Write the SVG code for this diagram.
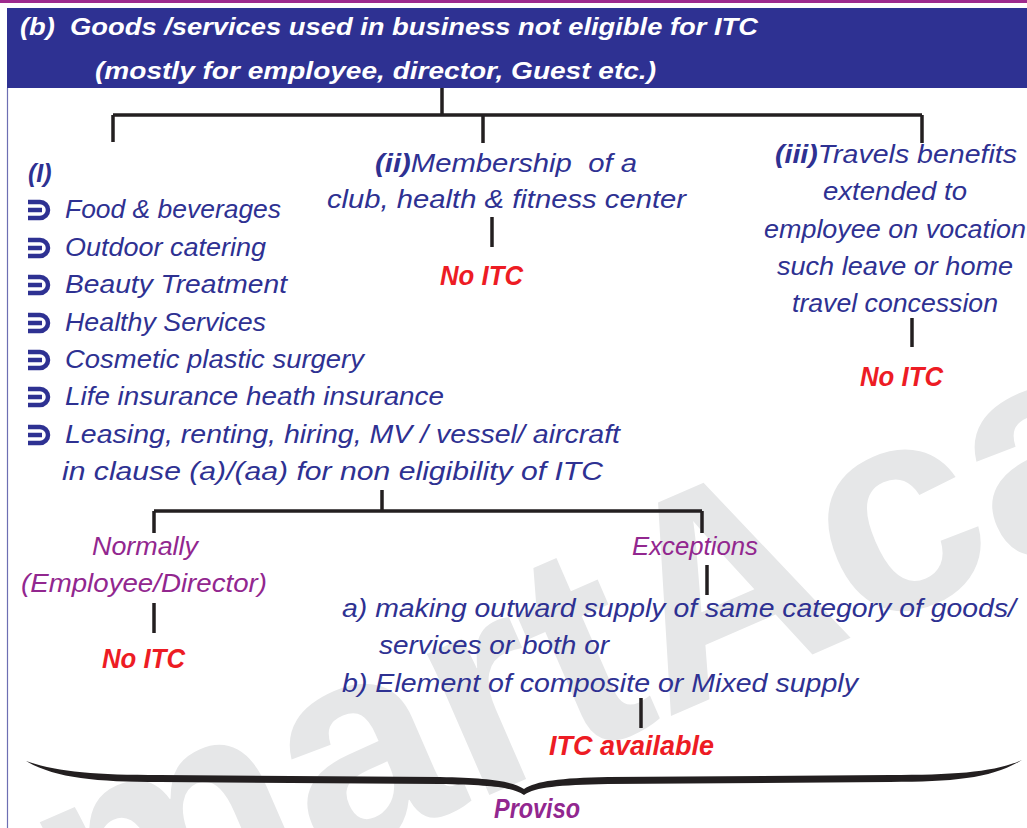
<svg xmlns="http://www.w3.org/2000/svg" xmlns:xlink="http://www.w3.org/1999/xlink" width="1027" height="828" viewBox="0 0 1027 828">
<style>
.t{font-family:"Liberation Sans","DejaVu Sans",sans-serif;font-style:italic}
.blue{fill:#2e3192;font-size:25px}
.red{fill:#ed1c24;font-weight:bold;font-size:27px}
.pur{fill:#92278f;font-size:25px}
.hdr{fill:#ffffff;font-weight:bold;font-size:24px}
.b{font-weight:bold}
.conn{stroke:#231f20;stroke-width:3.5;fill:none}
.wm{font-family:"Liberation Sans","DejaVu Sans",sans-serif;font-weight:bold;font-size:292px;fill:#e6e7e8;word-spacing:-70px}
</style>
<defs>
<path id="bul" d="M-10,-8 H2 A8,8 0 0 1 2,8 H-10 M-10,0 H4" stroke="#2e3192" stroke-width="4.5" fill="none"/>
</defs>
<rect x="0" y="0" width="1027" height="828" fill="#ffffff"/>
<!-- watermark -->
<text class="wm" x="-95" y="1049" transform="rotate(-23.5 -95 1049)">Smart Academy</text>
<!-- frame -->
<rect x="0" y="0" width="1027" height="3" fill="#9e2a8e"/>
<line x1="7.5" y1="88" x2="7.5" y2="828" stroke="#6d6fb3" stroke-width="1.2"/>
<g id="header">
<rect x="7" y="8" width="1020" height="80" fill="#2e3192"/>
<text class="t hdr" x="20" y="35" textLength="738" lengthAdjust="spacingAndGlyphs" xml:space="preserve">(b)  Goods /services used in business not eligible for ITC</text>
<text class="t hdr" x="95" y="79" textLength="561" lengthAdjust="spacingAndGlyphs">(mostly for employee, director, Guest etc.)</text>
</g>
<g id="connectors">
<path class="conn" d="M442,88 V115 M113,115 H922 M113,115 V142 M483,115 V143 M922,115 V143"/>
<path class="conn" d="M492,217 V247"/>
<path class="conn" d="M912,318 V347"/>
<path class="conn" d="M382,490 V511 M154,511 H702 M154,511 V533 M702,511 V533"/>
<path class="conn" d="M154,603 V633"/>
<path class="conn" d="M707,565 V595"/>
<path class="conn" d="M641,698 V728"/>
</g>
<g id="node-i">
<text class="t blue b" x="28" y="182" font-size="26">(I)</text>
<use href="#bul" x="38" y="210"/>
<text class="t blue" x="65" y="218" textLength="216" lengthAdjust="spacingAndGlyphs">Food &amp; beverages</text>
<use href="#bul" x="38" y="248"/>
<text class="t blue" x="65" y="256" textLength="201" lengthAdjust="spacingAndGlyphs">Outdoor catering</text>
<use href="#bul" x="38" y="285"/>
<text class="t blue" x="65" y="293" textLength="222" lengthAdjust="spacingAndGlyphs">Beauty Treatment</text>
<use href="#bul" x="38" y="323"/>
<text class="t blue" x="65" y="331" textLength="201" lengthAdjust="spacingAndGlyphs">Healthy Services</text>
<use href="#bul" x="38" y="360"/>
<text class="t blue" x="65" y="368" textLength="299" lengthAdjust="spacingAndGlyphs">Cosmetic plastic surgery</text>
<use href="#bul" x="38" y="397"/>
<text class="t blue" x="65" y="405" textLength="379" lengthAdjust="spacingAndGlyphs">Life insurance heath insurance</text>
<use href="#bul" x="38" y="435"/>
<text class="t blue" x="65" y="443" textLength="555" lengthAdjust="spacingAndGlyphs">Leasing, renting, hiring, MV / vessel/ aircraft</text>
<text class="t blue" x="62" y="480" textLength="541" lengthAdjust="spacingAndGlyphs">in clause (a)/(aa) for non eligibility of ITC</text>
</g>
<g id="node-ii">
<text class="t blue" x="375" y="172" textLength="262" lengthAdjust="spacingAndGlyphs" xml:space="preserve"><tspan class="b">(ii)</tspan>Membership  of a</text>
<text class="t blue" x="327" y="208" textLength="359" lengthAdjust="spacingAndGlyphs">club, health &amp; fitness center</text>
</g>
<g id="node-ii-noitc">
<text class="t red" x="440" y="285" textLength="83" lengthAdjust="spacingAndGlyphs">No ITC</text>
</g>
<g id="node-iii">
<text class="t blue" x="775" y="163" textLength="242" lengthAdjust="spacingAndGlyphs"><tspan class="b">(iii)</tspan>Travels benefits</text>
<text class="t blue" x="823" y="200" textLength="144" lengthAdjust="spacingAndGlyphs">extended to</text>
<text class="t blue" x="764" y="238" textLength="262" lengthAdjust="spacingAndGlyphs">employee on vocation</text>
<text class="t blue" x="777" y="275" textLength="236" lengthAdjust="spacingAndGlyphs">such leave or home</text>
<text class="t blue" x="792" y="312" textLength="206" lengthAdjust="spacingAndGlyphs">travel concession</text>
</g>
<g id="node-iii-noitc">
<text class="t red" x="860" y="386" textLength="83" lengthAdjust="spacingAndGlyphs">No ITC</text>
</g>
<g id="node-normally">
<text class="t pur" x="92" y="555" textLength="106" lengthAdjust="spacingAndGlyphs">Normally</text>
<text class="t pur" x="21" y="592" textLength="246" lengthAdjust="spacingAndGlyphs">(Employee/Director)</text>
</g>
<g id="node-normally-noitc">
<text class="t red" x="102" y="668" textLength="83" lengthAdjust="spacingAndGlyphs">No ITC</text>
</g>
<g id="node-exceptions">
<text class="t pur" x="632" y="555" textLength="126" lengthAdjust="spacingAndGlyphs">Exceptions</text>
</g>
<g id="node-exception-list">
<text class="t blue" x="342" y="617" textLength="674" lengthAdjust="spacingAndGlyphs">a) making outward supply of same category of goods/</text>
<text class="t blue" x="379" y="654" textLength="230" lengthAdjust="spacingAndGlyphs">services or both or</text>
<text class="t blue" x="342" y="692" textLength="516" lengthAdjust="spacingAndGlyphs">b) Element of composite or Mixed supply</text>
</g>
<g id="node-itc-available">
<text class="t red" x="549" y="755" textLength="165" lengthAdjust="spacingAndGlyphs">ITC available</text>
</g>
<g id="proviso">
<path d="M26,761 C55,778 95,782 160,782 L440,784 C490,785 512,787 524,795 C536,787 558,785 608,784 L890,782 C955,782 993,778 1022,760 C995,772 955,775 890,775 L608,777 C560,778 536,781 524,789 C512,781 488,778 440,777 L160,775 C95,775 57,772 26,761 Z" fill="#231f20"/>
<text class="t b" x="494" y="818" font-size="27" fill="#92278f" textLength="86" lengthAdjust="spacingAndGlyphs">Proviso</text>
</g>
</svg>
